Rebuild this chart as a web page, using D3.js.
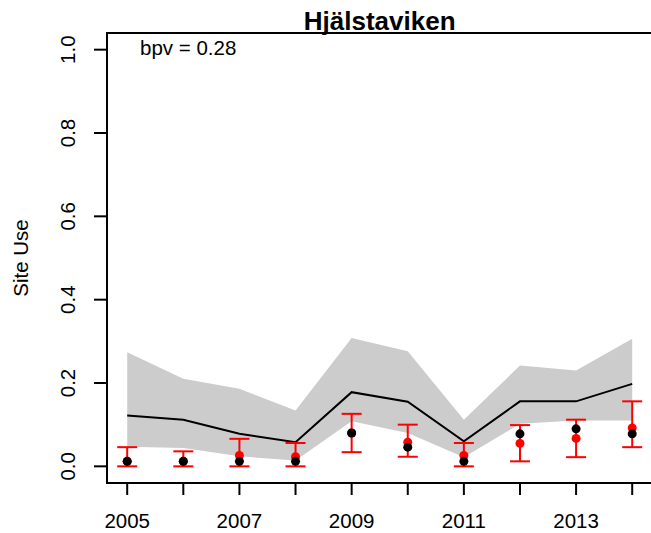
<!DOCTYPE html>
<html>
<head>
<meta charset="utf-8">
<script src="https://cdn.jsdelivr.net/npm/d3@7"></script>
<style>
  body { margin: 0; background: #fff; }
  text { font-family: "Liberation Sans", Arial, sans-serif; fill: #000; }
</style>
</head>
<body>
<div class="container"></div>
<script>
// data
var years = [2005, 2006, 2007, 2008, 2009, 2010, 2011, 2012, 2013, 2014];
var predMean = [0.122, 0.112, 0.078, 0.058, 0.178, 0.155, 0.060, 0.156, 0.156, 0.198];
var predLow = [0.047, 0.044, 0.024, 0.014, 0.108, 0.080, 0.022, 0.102, 0.110, 0.110];
var predHigh = [0.274, 0.210, 0.186, 0.134, 0.308, 0.276, 0.112, 0.242, 0.230, 0.306];
var obs = [0.012, 0.012, 0.012, 0.012, 0.080, 0.046, 0.012, 0.078, 0.090, 0.078];
var est = [0.012, 0.012, 0.026, 0.023, 0.080, 0.058, 0.026, 0.055, 0.067, 0.092];
var estLow = [0.0, 0.0, 0.0, 0.0, 0.034, 0.023, 0.0, 0.012, 0.022, 0.046];
var estHigh = [0.046, 0.036, 0.066, 0.056, 0.126, 0.100, 0.056, 0.099, 0.112, 0.156];
var yTicks = [0, 0.2, 0.4, 0.6, 0.8, 1.0];
var xLabelYears = [2005, 2007, 2009, 2011, 2013];
var title = "Hjälstaviken";
var bpvLabel = "bpv = 0.28";

var width = 651,
  height = 533,
  plotLeft = 107,
  plotRight = 652.4,
  plotTop = 33,
  plotBottom = 483;

var x = d3.scaleLinear().domain([2004.64, 2014.36]).range([plotLeft, plotRight]);
var y = d3.scaleLinear().domain([-0.04, 1.04]).range([plotBottom, plotTop]);

var svg = d3.select(".container").append("svg")
  .attr("width", width)
  .attr("height", height);

// grey band
var area = d3.area()
  .x(function(d, i) { return x(years[i]); })
  .y0(function(d, i) { return y(predLow[i]); })
  .y1(function(d, i) { return y(predHigh[i]); });

svg.append("path")
  .datum(years)
  .attr("d", area)
  .attr("fill", "#cccccc");

// mean line
var line = d3.line()
  .x(function(d, i) { return x(years[i]); })
  .y(function(d, i) { return y(predMean[i]); });

svg.append("path")
  .datum(years)
  .attr("d", line)
  .attr("fill", "none")
  .attr("stroke", "#000")
  .attr("stroke-width", 2);

// red error bars
var bars = svg.append("g").attr("stroke", "#ff0000").attr("stroke-width", 2);
bars.selectAll(".vbar")
  .data(years).enter()
  .append("line")
  .attr("x1", function(d) { return x(d); })
  .attr("x2", function(d) { return x(d); })
  .attr("y1", function(d, i) { return y(estLow[i]); })
  .attr("y2", function(d, i) { return y(estHigh[i]); });

[estLow, estHigh].forEach(function(arr) {
  bars.selectAll(null)
    .data(years).enter()
    .append("line")
    .attr("x1", function(d) { return x(d) - 10; })
    .attr("x2", function(d) { return x(d) + 10; })
    .attr("y1", function(d, i) { return y(arr[i]); })
    .attr("y2", function(d, i) { return y(arr[i]); });
});

svg.selectAll(".red-pt")
  .data(years).enter()
  .append("circle")
  .attr("class", "red-pt")
  .attr("cx", function(d) { return x(d); })
  .attr("cy", function(d, i) { return y(est[i]); })
  .attr("r", 4.5)
  .attr("fill", "#ff0000");

svg.selectAll(".black-pt")
  .data(years).enter()
  .append("circle")
  .attr("class", "black-pt")
  .attr("cx", function(d) { return x(d); })
  .attr("cy", function(d, i) { return y(obs[i]); })
  .attr("r", 4.5)
  .attr("fill", "#000");

// box (right side falls just outside the window)
svg.append("path")
  .attr("d", "M" + plotRight + "," + plotTop + "H" + plotLeft + "V" + plotBottom + "H" + plotRight)
  .attr("fill", "none")
  .attr("stroke", "#000")
  .attr("stroke-width", 2);

// x axis
svg.append("g").selectAll("line")
  .data(years).enter()
  .append("line")
  .attr("x1", function(d) { return x(d); })
  .attr("x2", function(d) { return x(d); })
  .attr("y1", plotBottom)
  .attr("y2", plotBottom + 12)
  .attr("stroke", "#000")
  .attr("stroke-width", 2);

svg.append("g").selectAll("text")
  .data(xLabelYears).enter()
  .append("text")
  .attr("x", function(d) { return x(d); })
  .attr("y", 528)
  .attr("text-anchor", "middle")
  .style("font-size", "20.5px")
  .text(function(d) { return d; });

// y axis
svg.append("g").selectAll("line")
  .data(yTicks).enter()
  .append("line")
  .attr("x1", plotLeft - 13)
  .attr("x2", plotLeft)
  .attr("y1", function(d) { return y(d); })
  .attr("y2", function(d) { return y(d); })
  .attr("stroke", "#000")
  .attr("stroke-width", 2);

svg.append("g").selectAll("text")
  .data(yTicks).enter()
  .append("text")
  .attr("transform", function(d) { return "translate(75," + y(d) + ") rotate(-90)"; })
  .attr("text-anchor", "middle")
  .style("font-size", "20.5px")
  .text(function(d) { return d3.format(".1f")(d); });

svg.append("text")
  .attr("transform", "translate(28," + ((plotTop + plotBottom) / 2) + ") rotate(-90)")
  .attr("text-anchor", "middle")
  .style("font-size", "20.5px")
  .text("Site Use");

svg.append("text")
  .attr("x", (plotLeft + plotRight) / 2)
  .attr("y", 30)
  .attr("text-anchor", "middle")
  .style("font-size", "26px")
  .style("font-weight", "bold")
  .text(title);

svg.append("text")
  .attr("x", 140)
  .attr("y", 55)
  .style("font-size", "20.5px")
  .text(bpvLabel);
</script>
</body>
</html>
